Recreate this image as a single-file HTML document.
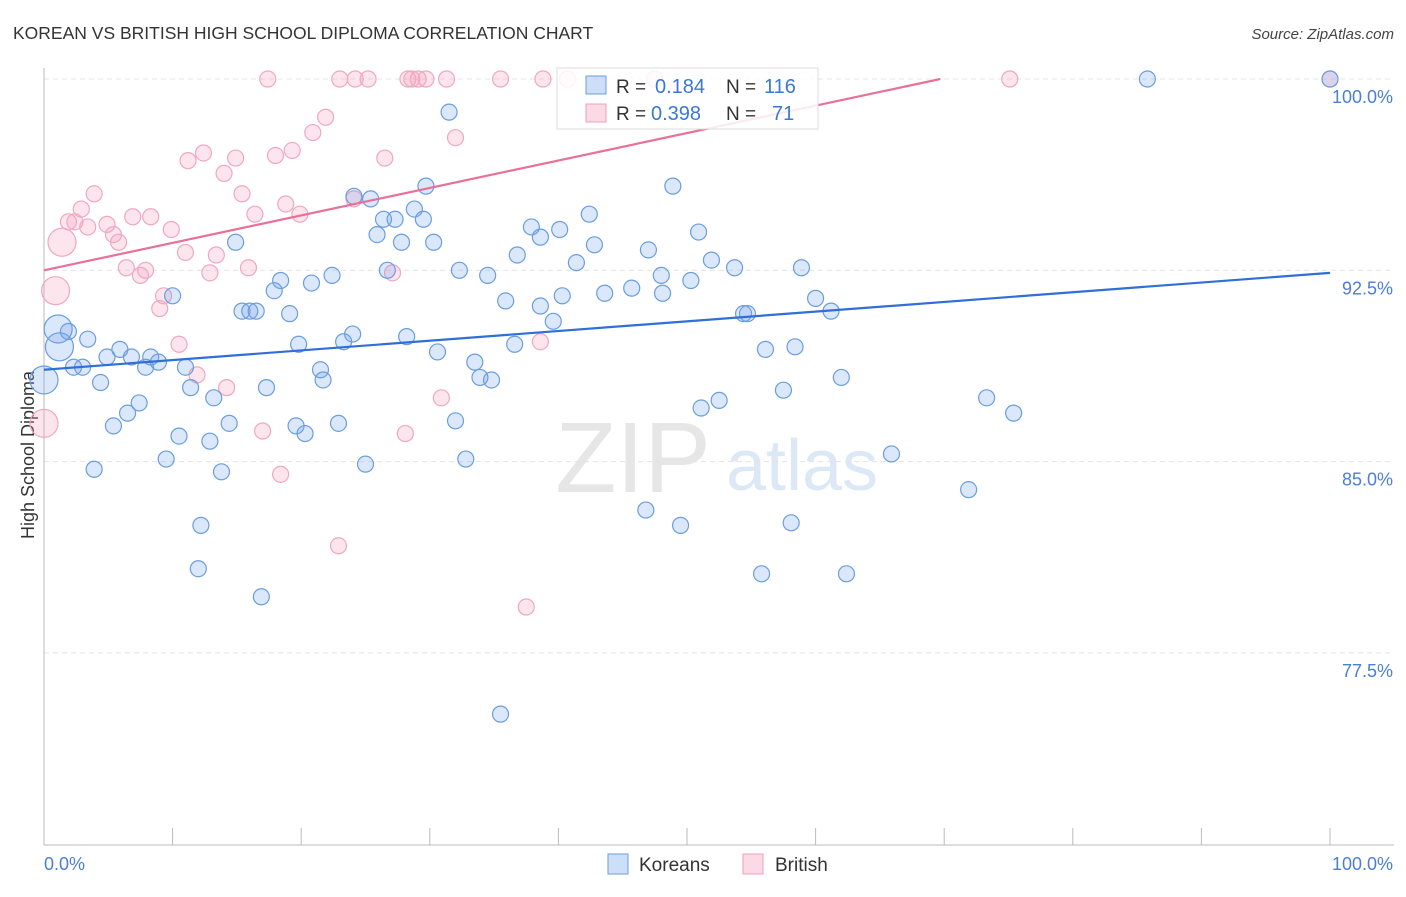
<!DOCTYPE html>
<html><head><meta charset="utf-8">
<style>
body{margin:0;background:#fff;font-family:"Liberation Sans",sans-serif;}
svg text{font-family:"Liberation Sans",sans-serif;}
</style></head>
<body>
<svg id="chart" width="1406" height="892" xmlns="http://www.w3.org/2000/svg">
<text x="13" y="39" font-size="17.5" fill="#333">KOREAN VS BRITISH HIGH SCHOOL DIPLOMA CORRELATION CHART</text>
<text x="1394" y="39" font-size="15" fill="#444" text-anchor="end" font-style="italic">Source: ZipAtlas.com</text>
<text transform="translate(34,455) rotate(-90)" font-size="18" fill="#333" text-anchor="middle">High School Diploma</text>
<g>
<text x="633" y="492" font-size="100" fill="#e6e6e6" font-family="Liberation Serif" text-anchor="middle">ZIP</text>
<text x="802" y="490" font-size="72" fill="#dde8f6" text-anchor="middle">atlas</text>
</g>
<g id="grid"></g>
<g id="axes"></g>
<g id="pts"></g>
<g id="lines"></g>
<g>
<rect x="557" y="68" width="261" height="61" fill="#fff" fill-opacity="0.85" stroke="#ddd"/>
<rect x="586" y="76" width="20" height="18" fill="rgba(110,160,235,0.35)" stroke="#6a9ee0"/>
<rect x="586" y="104" width="20" height="18" fill="rgba(245,160,190,0.4)" stroke="#f0a0b8"/>
<text x="616" y="93" font-size="19" fill="#333">R =</text>
<text x="655" y="93" font-size="20" fill="#3a78d8">0.184</text>
<text x="726" y="93" font-size="19" fill="#333">N =</text>
<text x="764" y="93" font-size="20" fill="#3a78d8">116</text>
<text x="616" y="120" font-size="19" fill="#333">R =</text>
<text x="651" y="120" font-size="20" fill="#3a78d8">0.398</text>
<text x="726" y="120" font-size="19" fill="#333">N =</text>
<text x="772" y="120" font-size="20" fill="#3a78d8">71</text>
</g>
<g>
<rect x="608" y="854" width="20" height="20" fill="rgba(110,160,235,0.35)" stroke="#6a9ee0"/>
<text x="639" y="871" font-size="19" fill="#333">Koreans</text>
<rect x="743" y="854" width="20" height="20" fill="rgba(245,160,190,0.4)" stroke="#f0a0b8"/>
<text x="775" y="871" font-size="19" fill="#333">British</text>
</g>
</svg>
<script>
const yTicks=[100,92.5,85,77.5];
const yTickLabels=["100.0%","92.5%","85.0%","77.5%"];
const xTickLabels=["0.0%","100.0%"];
const koreanX=[85.8,100,31.5,48.9,29.7,24.1,25.4,42.4,28.8,26.4,27.3,29.5,37.9,40.1,25.9,38.6,50.9,14.9,27.8,30.3,42.8,47.0,36.8,51.9,41.4,53.7,58.9,32.3,26.7,22.4,34.5,48.0,18.4,20.8,45.7,50.3,17.9,43.6,48.1,40.3,35.9,60.0,10.0,38.6,15.4,16.0,16.5,19.1,61.2,39.6,54.4,54.7,1.1,1.9,3.4,24.0,28.2,1.2,19.8,23.3,36.6,5.9,4.9,6.8,8.3,58.4,56.1,30.6,2.3,3.0,7.9,8.9,11.0,33.5,21.5,21.7,33.9,34.8,0,4.4,11.4,17.3,62.0,57.5,7.4,13.2,52.5,51.1,73.3,6.5,5.4,14.4,19.6,20.3,22.9,32.0,75.4,10.5,12.9,9.5,3.9,13.8,25.0,32.8,65.9,71.9,46.8,49.5,12.2,58.1,12.0,55.8,62.4,16.9,35.5];
const koreanY=[100,100,98.7,95.8,95.8,95.4,95.3,94.7,94.9,94.5,94.5,94.5,94.2,94.1,93.9,93.8,94.0,93.6,93.6,93.6,93.5,93.3,93.1,92.9,92.8,92.6,92.6,92.5,92.5,92.3,92.3,92.3,92.1,92.0,91.8,92.1,91.7,91.6,91.6,91.5,91.3,91.4,91.5,91.1,90.9,90.9,90.9,90.8,90.9,90.5,90.8,90.8,90.2,90.1,89.8,90.0,89.9,89.5,89.6,89.7,89.6,89.4,89.1,89.1,89.1,89.5,89.4,89.3,88.7,88.7,88.7,88.9,88.7,88.9,88.6,88.2,88.3,88.2,88.2,88.1,87.9,87.9,88.3,87.8,87.3,87.5,87.4,87.1,87.5,86.9,86.4,86.5,86.4,86.1,86.5,86.6,86.9,86.0,85.8,85.1,84.7,84.6,84.9,85.1,85.3,83.9,83.1,82.5,82.5,82.6,80.8,80.6,80.6,79.7,75.1];
const koreanBig=[52,57,78];
const britishX=[17.4,23.0,24.2,25.2,28.3,28.6,29.1,29.7,31.3,35.5,38.8,40.7,47.5,75.1,100,21.9,20.9,32.0,12.4,19.3,11.2,14.9,26.5,18.0,14.0,3.9,15.4,18.8,24.1,2.9,19.9,16.4,6.9,8.3,1.9,2.4,4.9,3.4,5.4,9.9,5.8,1.4,11.0,13.4,6.4,7.9,15.9,7.5,12.9,27.1,0.9,9.3,9.0,10.5,38.6,11.9,14.2,30.9,0,17.0,28.1,18.4,22.9,37.5];
const britishY=[100,100,100,100,100,100,100,100,100,100,100,100,100,100,100,98.5,97.9,97.7,97.1,97.2,96.8,96.9,96.9,97.0,96.3,95.5,95.5,95.1,95.3,94.9,94.7,94.7,94.6,94.6,94.4,94.4,94.3,94.2,93.9,94.1,93.6,93.6,93.2,93.1,92.6,92.5,92.6,92.3,92.4,92.4,91.7,91.5,91.0,89.6,89.7,88.4,87.9,87.5,86.5,86.2,86.1,84.5,81.7,79.3];
const britishBig=[41,50,58];
const koreanLine=[88.6,92.4];
const britishLine=[92.5,100];
const britishLineEnd=69.7;

const NS="http://www.w3.org/2000/svg";
const X0=44,X1=1330,Y100=79,PXPER=191.3/7.5;
const sx=v=>X0+(X1-X0)*v/100;
const sy=v=>Y100+(100-v)*PXPER;
function mk(tag,attrs,parent){const e=document.createElementNS(NS,tag);for(const k in attrs)e.setAttribute(k,attrs[k]);parent.appendChild(e);return e;}
const grid=document.getElementById('grid'),axes=document.getElementById('axes'),pts=document.getElementById('pts'),lines=document.getElementById('lines');
yTicks.forEach((t,i)=>{
 const l=mk('line',{x1:X0,x2:1394,y1:sy(t),y2:sy(t),stroke:'#e4e4e4','stroke-dasharray':'5,4'},grid);
 
 
 const tx=mk('text',{x:1393,y:sy(t)+24,'font-size':18,fill:'#4a7fd4','text-anchor':'end'},axes);
 tx.textContent=yTickLabels[i];
 
 
});
const ax=mk('line',{x1:X0,x2:X0,y1:68,y2:845,stroke:'#bbb'},axes);


const bx=mk('line',{x1:X0,x2:1394,y1:845,y2:845,stroke:'#bbb'},axes);


for(let i=0;i<=10;i++){
 const t=mk('line',{x1:sx(i*10),x2:sx(i*10),y1:828,y2:845,stroke:'#bbb'},axes);
 
 
}
const xl0=mk('text',{x:44,y:870,'font-size':18,fill:'#4a7fd4'},axes);xl0.textContent=xTickLabels[0];


const xl1=mk('text',{x:1393,y:870,'font-size':18,fill:'#4a7fd4','text-anchor':'end'},axes);xl1.textContent=xTickLabels[1];



britishX.forEach((v,i)=>{
 const c=mk('circle',{cx:sx(v),cy:sy(britishY[i]),r:britishBig.includes(i)?14:8,fill:'rgba(245,160,190,0.28)',stroke:'#f0a8bf','stroke-width':1.2},pts);
 
 
});
koreanX.forEach((v,i)=>{
 const c=mk('circle',{cx:sx(v),cy:sy(koreanY[i]),r:koreanBig.includes(i)?14:8,fill:'rgba(110,160,235,0.25)',stroke:'#6a9ee0','stroke-width':1.2},pts);
 
 
});
const kl=mk('line',{x1:sx(0),y1:sy(koreanLine[0]),x2:sx(100),y2:sy(koreanLine[1]),stroke:'#2f6fd6','stroke-width':2.2},lines);


const bl=mk('line',{x1:sx(0),y1:sy(britishLine[0]),x2:sx(britishLineEnd),y2:sy(britishLine[1]),stroke:'#e8709a','stroke-width':2.2},lines);


</script>
</body></html>
